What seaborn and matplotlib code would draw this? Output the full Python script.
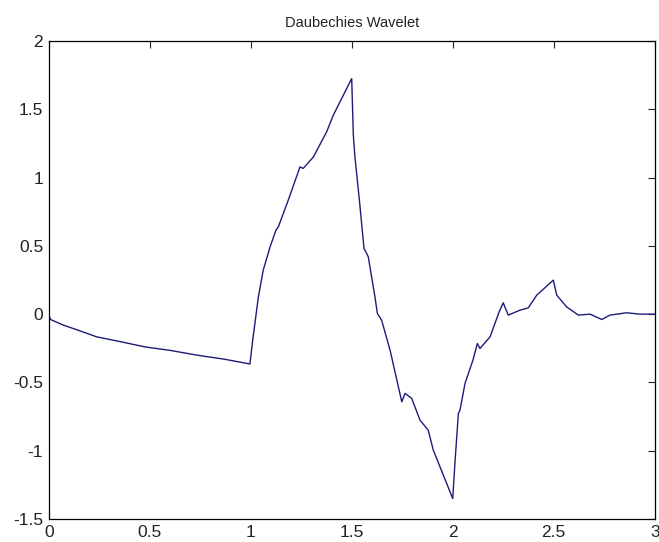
import matplotlib
matplotlib.use("Agg")
import matplotlib.pyplot as plt
import seaborn as sns
import pandas as pd

# values
x_vals = [0.000, 0.010, 0.072, 0.150, 0.237, 0.350, 0.477, 0.600, 0.733, 0.870,
          0.996, 1.010, 1.038, 1.062, 1.096, 1.125, 1.137, 1.186, 1.244, 1.260,
          1.310, 1.376, 1.409, 1.500, 1.508, 1.516, 1.538, 1.561, 1.574, 1.582,
          1.615, 1.627, 1.648, 1.690, 1.731, 1.748, 1.764, 1.797, 1.838, 1.879,
          1.904, 2.000, 2.012, 2.028, 2.036, 2.061, 2.100, 2.122, 2.135, 2.185,
          2.230, 2.250, 2.275, 2.333, 2.374, 2.416, 2.498, 2.515, 2.564, 2.622,
          2.680, 2.738, 2.779, 2.861, 2.928, 3.000]
y_vals = [-0.010, -0.040, -0.080, -0.120, -0.166, -0.200, -0.240, -0.265, -0.300, -0.330,
          -0.365, -0.190, 0.127, 0.322, 0.493, 0.615, 0.640, 0.835, 1.078, 1.067,
          1.150, 1.335, 1.457, 1.725, 1.310, 1.150, 0.835, 0.480, 0.444, 0.420,
          0.127, 0.005, -0.044, -0.264, -0.532, -0.642, -0.580, -0.617, -0.776, -0.850,
          -0.996, -1.350, -1.069, -0.727, -0.703, -0.507, -0.337, -0.215, -0.251, -0.166,
          0.017, 0.083, -0.007, 0.029, 0.046, 0.139, 0.249, 0.139, 0.053, -0.007,
          0.000, -0.039, -0.007, 0.010, 0.000, 0.000]
x_ticks = [0, 0.5, 1, 1.5, 2, 2.5, 3]
x_labels = ["0", "0.5", "1", "1.5", "2", "2.5", "3"]
y_ticks = [-1.5, -1, -0.5, 0, 0.5, 1, 1.5, 2]
y_labels = ["-1.5", "-1", "-0.5", "0", "0.5", "1", "1.5", "2"]

wavelet = pd.DataFrame({"x": x_vals, "y": y_vals})

sns.set_style("white")
plt.rcParams["font.family"] = ["Liberation Sans", "DejaVu Sans"]

fig = plt.figure(figsize=(6.59, 5.42), dpi=100)
ax = fig.add_axes([0.0739, 0.0424, 0.9196, 0.882])

sns.lineplot(data=wavelet, x="x", y="y", sort=False, estimator=None,
             color="#1c1c78", linewidth=1.0, ax=ax)

ax.set_xlim(0, 3)
ax.set_ylim(-1.5, 2)
ax.set_xticks(x_ticks)
ax.set_xticklabels(x_labels)
ax.set_yticks(y_ticks)
ax.set_yticklabels(y_labels)
ax.set_xlabel("")
ax.set_ylabel("")
ax.tick_params(direction="in", length=5, width=0.8, top=True, right=True,
               labelsize=12.5, colors="#222222", pad=4)
for s in ax.spines.values():
    s.set_color("black")
    s.set_linewidth(0.9)
ax.set_title("Daubechies Wavelet", fontsize=10.5, pad=10, color="#222222")

plt.savefig("out.png", dpi=100)
plt.close()
